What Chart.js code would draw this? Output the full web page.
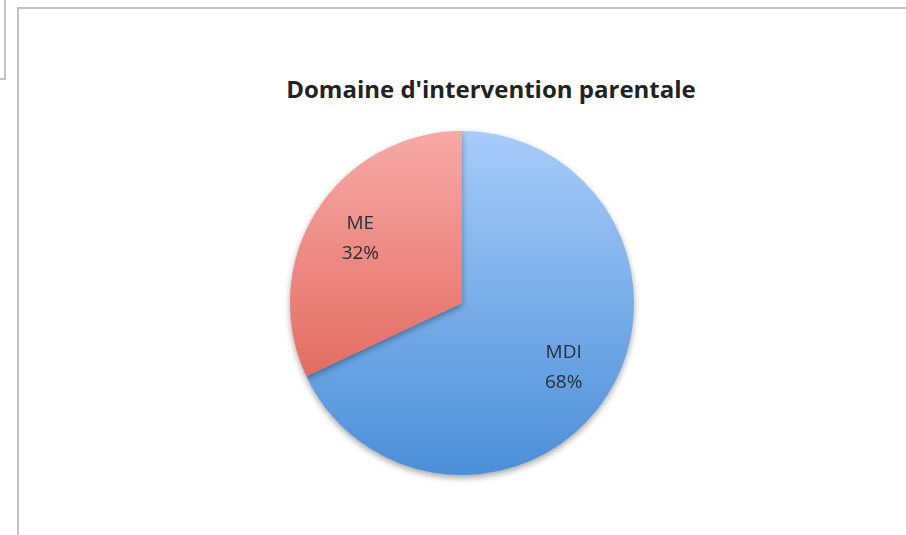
<!DOCTYPE html>
<html>
<head>
<meta charset="utf-8">
<script src="https://cdn.jsdelivr.net/npm/chart.js@4"></script>
<style>
  body { margin: 0; background: #fff; }
  #page { position: relative; width: 906px; height: 535px; overflow: hidden; }
  .frame { position: absolute; border: 2px solid #c4c4c4; box-sizing: border-box; }
  #title {
    position: absolute; left: 0; width: 982px; top: 72px; text-align: center;
    font: bold 24px "Open Sans", sans-serif; color: #222;
  }
  #pieBox { position: absolute; left: 272px; top: 113px; width: 380px; height: 380px; }
</style>
</head>
<body>
<div id="page">
  <div class="frame" style="left:-4px; top:-4px; width:10px; height:84px;"></div>
  <div class="frame" style="left:17px; top:7px; width:900px; height:540px;"></div>
  <div id="title">Domaine d'intervention parentale</div>
  <div id="pieBox"><canvas id="pieChart"></canvas></div>
</div>
<script>
  // values
  const categories = ['MDI', 'ME'];
  const shares = [68, 32];
  const topColours = ['#a7ccfa', '#f7a9a6'];
  const bottomColours = ['#4b8fd8', '#db5446'];

  function gradientFor(context) {
    const chart = context.chart;
    const area = chart.chartArea;
    if (!area) return bottomColours[context.dataIndex];
    const g = chart.ctx.createLinearGradient(0, area.top, 0, area.bottom);
    g.addColorStop(0, topColours[context.dataIndex]);
    g.addColorStop(1, bottomColours[context.dataIndex]);
    return g;
  }

  // soft shadow under the pie
  const shadow = {
    id: 'shadow',
    beforeDatasetsDraw(chart) {
      const ctx = chart.ctx;
      ctx.save();
      ctx.shadowColor = 'rgba(0,0,0,0.35)';
      ctx.shadowBlur = 6;
      ctx.shadowOffsetY = 3;
    },
    afterDatasetsDraw(chart) {
      chart.ctx.restore();
    }
  };

  // category name + percentage inside each slice, a bit outside mid-radius
  const sliceLabels = {
    id: 'sliceLabels',
    afterDatasetsDraw(chart) {
      const ctx = chart.ctx;
      const meta = chart.getDatasetMeta(0);
      const total = shares.reduce((a, b) => a + b, 0);
      ctx.save();
      ctx.font = '19px "Open Sans", sans-serif';
      ctx.fillStyle = '#26303a';
      ctx.textAlign = 'center';
      ctx.textBaseline = 'middle';
      meta.data.forEach((arc, i) => {
        const { x, y, startAngle, endAngle, outerRadius } =
          arc.getProps(['x', 'y', 'startAngle', 'endAngle', 'outerRadius'], true);
        const mid = (startAngle + endAngle) / 2;
        const r = outerRadius * 0.7;
        const px = x + Math.cos(mid) * r;
        const py = y + Math.sin(mid) * r;
        const pct = Math.round(shares[i] / total * 100) + '%';
        ctx.fillText(categories[i], px, py - 15);
        ctx.fillText(pct, px, py + 15);
      });
      ctx.restore();
    }
  };

  new Chart(document.getElementById('pieChart'), {
    type: 'pie',
    data: {
      labels: categories,
      datasets: [{
        data: shares,
        backgroundColor: gradientFor,
        borderWidth: 0,
        hoverOffset: 0
      }]
    },
    options: {
      responsive: true,
      maintainAspectRatio: false,
      animation: false,
      layout: { padding: 18 },
      plugins: {
        legend: { display: false },
        tooltip: { enabled: false }
      }
    },
    plugins: [shadow, sliceLabels]
  });
</script>
</body>
</html>
